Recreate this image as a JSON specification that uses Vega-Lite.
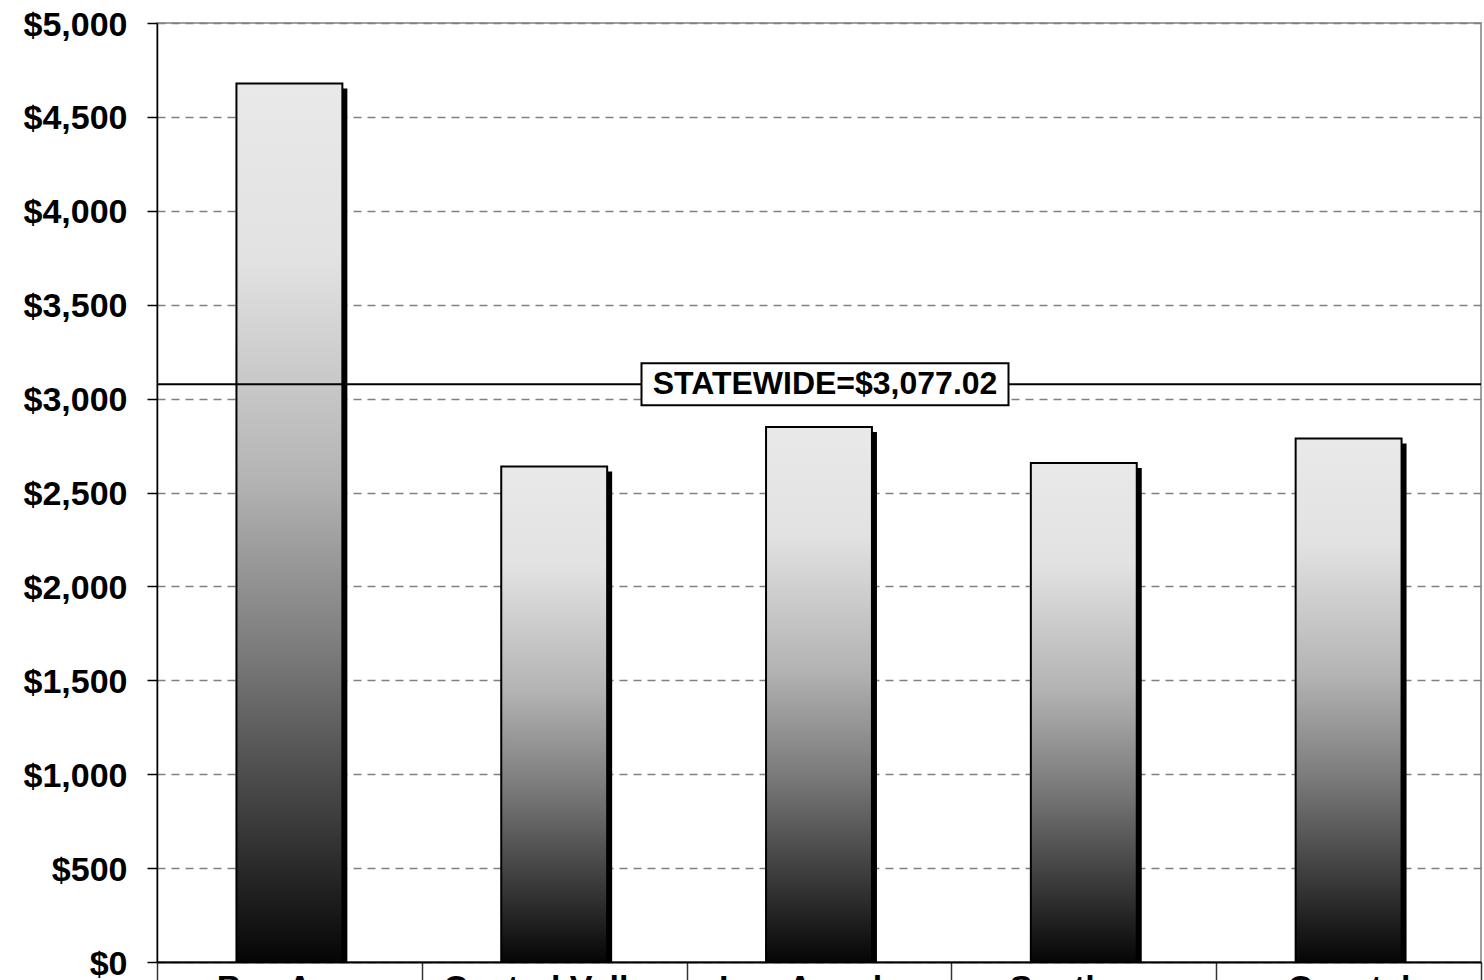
{
  "$schema": "https://vega.github.io/schema/vega-lite/v6.json",
  "width": 1324,
  "height": 939,
  "autosize": {"type": "none"},
  "padding": {"left": 157, "top": 23, "right": 3, "bottom": 18},
  "background": "white",
  "config": {
    "font": "Liberation Sans",
    "view": {"stroke": "#808080", "strokeWidth": 1.5}
  },
  "datasets": {
    "regions": [
      {"region": "Bay Area", "cost": 4678},
      {"region": "Central Valley", "cost": 2639},
      {"region": "Los Angeles", "cost": 2849},
      {"region": "Southern", "cost": 2657},
      {"region": "Coastal", "cost": 2787}
    ],
    "statewide": [
      {"label": "STATEWIDE=$3,077.02", "amount": 3077.02, "anchor": "Los Angeles"}
    ]
  },
  "encoding": {
    "x": {
      "field": "region",
      "type": "nominal",
      "sort": null,
      "scale": {"paddingInner": 0, "paddingOuter": 0},
      "axis": {
        "title": null,
        "labelAngle": 0,
        "labelFont": "Liberation Sans",
        "labelFontWeight": "bold",
        "labelFontSize": 34,
        "labelColor": "black",
        "labelLimit": 0,
        "labelPadding": -21,
        "tickBand": "extent",
        "tickSize": 30,
        "tickColor": "#333333",
        "tickWidth": 1.5,
        "domainColor": "black",
        "domainWidth": 2,
        "grid": false
      }
    }
  },
  "layer": [
    {
      "data": {"name": "regions"},
      "mark": {"type": "bar", "color": "black", "xOffset": 5, "yOffset": 5, "clip": true, "width": {"band": 0.4}},
      "encoding": {
        "y": {
          "field": "cost",
          "type": "quantitative",
          "scale": {"domain": [0, 5000]},
          "axis": {
            "title": null,
            "values": [0, 500, 1000, 1500, 2000, 2500, 3000, 3500, 4000, 4500, 5000],
            "format": "$,.0f",
            "labelFont": "Liberation Sans",
            "labelFontWeight": "bold",
            "labelFontSize": 34,
            "labelColor": "black",
            "labelPadding": 20,
            "labelOffset": 2,
            "labelFlush": false,
            "labelOverlap": false,
            "tickSize": 10,
            "tickColor": "black",
            "tickWidth": 1.5,
            "domainColor": "black",
            "domainWidth": 1.5,
            "grid": true,
            "gridColor": "#808080",
            "gridDash": [8, 6],
            "gridWidth": 1.5
          }
        }
      }
    },
    {
      "data": {"name": "regions"},
      "mark": {
        "type": "bar",
        "width": {"band": 0.4},
        "stroke": "black",
        "strokeWidth": 2,
        "color": {
          "gradient": "linear",
          "x1": 0, "y1": 0, "x2": 0, "y2": 1,
          "stops": [
            {"offset": 0, "color": "#e9e9e9"},
            {"offset": 0.2, "color": "#e2e2e2"},
            {"offset": 0.45, "color": "#b4b4b4"},
            {"offset": 0.65, "color": "#7a7a7a"},
            {"offset": 0.85, "color": "#383838"},
            {"offset": 1, "color": "#050505"}
          ]
        }
      },
      "encoding": {
        "y": {"field": "cost", "type": "quantitative"}
      }
    },
    {
      "data": {"name": "statewide"},
      "mark": {"type": "rule", "color": "black", "strokeWidth": 2},
      "encoding": {
        "x": null,
        "y": {"field": "amount", "type": "quantitative"}
      }
    },
    {
      "data": {"name": "statewide"},
      "mark": {
        "type": "point",
        "shape": "M-1,-0.1144L1,-0.1144L1,0.1144L-1,0.1144Z",
        "size": 134689,
        "filled": true,
        "fill": "white",
        "stroke": "black",
        "strokeWidth": 2,
        "opacity": 1,
        "xOffset": 6
      },
      "encoding": {
        "x": {"field": "anchor", "type": "nominal", "sort": null},
        "y": {"field": "amount", "type": "quantitative"}
      }
    },
    {
      "data": {"name": "statewide"},
      "mark": {
        "type": "text",
        "font": "Liberation Sans",
        "fontWeight": "bold",
        "fontSize": 32,
        "color": "black",
        "align": "center",
        "baseline": "middle",
        "xOffset": 6
      },
      "encoding": {
        "x": {"field": "anchor", "type": "nominal", "sort": null},
        "y": {"field": "amount", "type": "quantitative"},
        "text": {"field": "label"}
      }
    }
  ]
}
